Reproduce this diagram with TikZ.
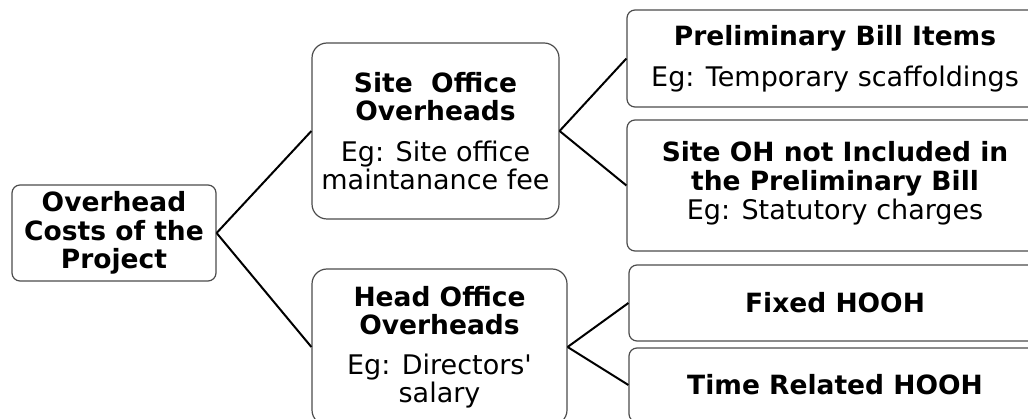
\documentclass[tikz,border=0pt]{standalone}
\usepackage{fontspec}
\setmainfont{DejaVu Sans}
\newcommand\egline[1]{{\fontsize{27}{28}\selectfont #1}}

\begin{document}
\begin{tikzpicture}[x=1pt,y=-1pt,
  box node/.style={draw=black!70,line width=1.2pt,rounded corners=8pt,
  align=center,inner sep=0pt,font=\fontsize{26.5}{28.5}\selectfont\bfseries},
  link/.style={draw=black,line width=2pt}]
  \clip (0,0) rectangle (1028,419);

  \node[box node,minimum width=204pt,minimum height=96pt] (root) at (114,233)
    {Overhead\\Costs of the\\Project};
  \node[box node,rounded corners=15pt,minimum width=247pt,minimum height=176pt] (site) at (435.5,131)
    {Site\ \ Office\\Overheads\\[12pt]\egline{\mdseries Eg: Site office}\\\egline{\mdseries maintanance fee}};
  \node[box node,rounded corners=15pt,minimum width=255pt,minimum height=156pt] (head) at (439.5,347)
    {Head Office\\Overheads\\[11pt]\egline{\mdseries Eg: Directors\textquotesingle}\\\egline{\mdseries salary}};
  \node[box node,minimum width=416pt,minimum height=97pt] (prelim) at (835,58.5)
    {Preliminary Bill Items\\[13pt]\egline{\mdseries Eg: Temporary scaffoldings}};
  \node[box node,minimum width=416pt,minimum height=131pt] (siteoh) at (835,185.5)
    {Site OH not Included in\\the Preliminary Bill\\[1pt]\egline{\mdseries Eg: Statutory charges}\\[-19pt]};
  \node[box node,minimum width=412pt,minimum height=76pt] (fixed) at (835,303)
    {Fixed HOOH};
  \node[box node,minimum width=412pt,minimum height=74pt] (timerel) at (835,385)
    {Time Related HOOH};

  % tree links
  \path[link] (root.east) -- (site.west)
    (root.east) -- (head.west)
    (site.east) -- (prelim.west)
    (site.east) -- (siteoh.west)
    (head.east) -- (fixed.west)
    (head.east) -- (timerel.west);
\end{tikzpicture}
\end{document}
